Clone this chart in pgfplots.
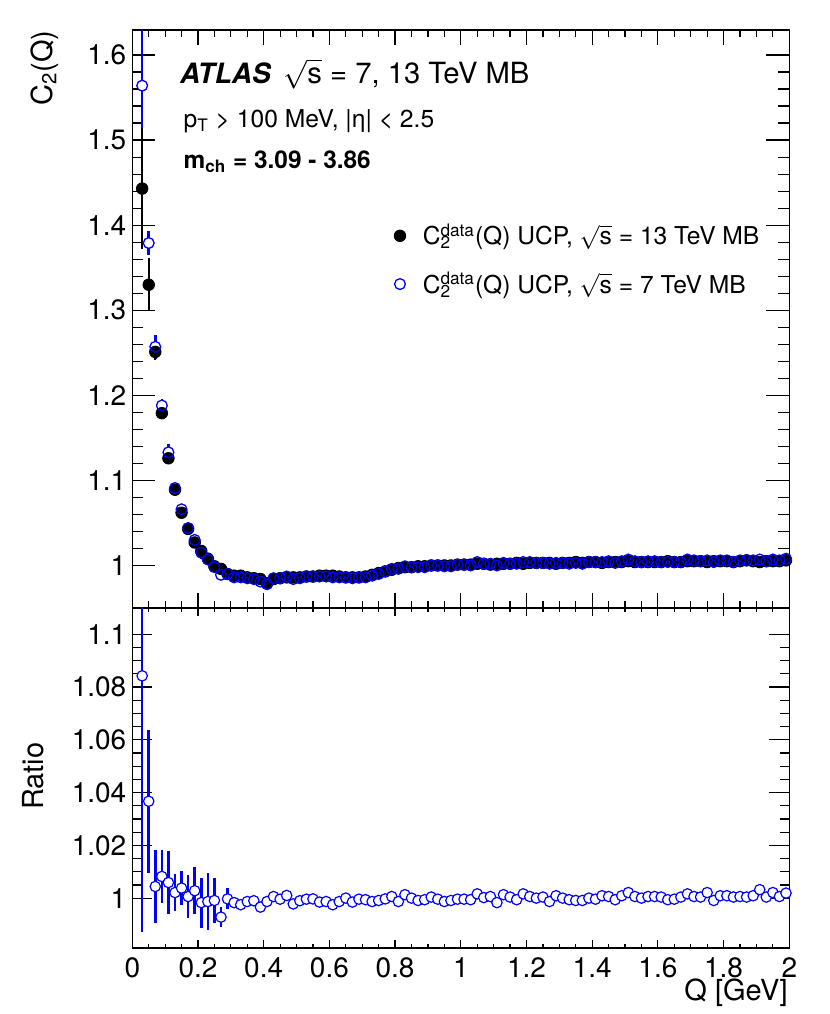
\documentclass[border=0pt]{standalone}
\usepackage{pgfplots}
\pgfplotsset{compat=1.18}
\usepackage{pgfplotstable}
\usepackage{fontspec}
\setmainfont{TeX Gyre Heros}

% 13 TeV (filled black)
\pgfplotstableread{
x y e
0.03 1.443 0.071
0.05 1.330 0.031
0.07 1.251 0.010
0.09 1.179 0.005
0.11 1.126 0.004
0.13 1.089 0.003
0.15 1.062 0.003
0.17 1.043 0.002
0.19 1.027 0.002
0.21 1.017 0.002
0.23 1.008 0.002
0.25 0.999 0.002
0.27 0.996 0.001
0.29 0.990 0.001
0.31 0.988 0.001
0.33 0.988 0.001
0.35 0.986 0.001
0.37 0.985 0.001
0.39 0.984 0.001
0.41 0.979 0.001
0.43 0.984 0.001
0.45 0.985 0.001
0.47 0.986 0.001
0.49 0.986 0.001
0.51 0.986 0.001
0.53 0.987 0.001
0.55 0.987 0.001
0.57 0.988 0.001
0.59 0.988 0.001
0.61 0.988 0.001
0.63 0.987 0.001
0.65 0.986 0.001
0.67 0.986 0.001
0.69 0.986 0.001
0.71 0.987 0.001
0.73 0.989 0.001
0.75 0.991 0.001
0.77 0.993 0.001
0.79 0.995 0.001
0.81 0.997 0.001
0.83 0.998 0.001
0.85 0.998 0.001
0.87 0.999 0.001
0.89 0.999 0.001
0.91 1.000 0.001
0.93 1.000 0.001
0.95 1.000 0.001
0.97 1.000 0.001
0.99 1.001 0.001
1.01 1.001 0.001
1.03 1.001 0.001
1.05 1.002 0.001
1.07 1.002 0.001
1.09 1.001 0.001
1.11 1.002 0.001
1.13 1.002 0.001
1.15 1.002 0.001
1.17 1.003 0.001
1.19 1.002 0.001
1.21 1.003 0.001
1.23 1.003 0.001
1.25 1.003 0.001
1.27 1.003 0.001
1.29 1.002 0.001
1.31 1.003 0.001
1.33 1.003 0.001
1.35 1.004 0.001
1.37 1.003 0.001
1.39 1.004 0.001
1.41 1.004 0.001
1.43 1.003 0.001
1.45 1.004 0.001
1.47 1.004 0.001
1.49 1.004 0.001
1.51 1.005 0.001
1.53 1.004 0.001
1.55 1.004 0.001
1.57 1.004 0.001
1.59 1.004 0.001
1.61 1.004 0.001
1.63 1.005 0.001
1.65 1.004 0.001
1.67 1.004 0.001
1.69 1.005 0.001
1.71 1.005 0.001
1.73 1.005 0.001
1.75 1.004 0.001
1.77 1.005 0.001
1.79 1.005 0.001
1.81 1.005 0.001
1.83 1.004 0.001
1.85 1.005 0.001
1.87 1.006 0.001
1.89 1.005 0.001
1.91 1.004 0.001
1.93 1.005 0.001
1.95 1.005 0.001
1.97 1.005 0.001
1.99 1.006 0.001
}\tabA

% 7 TeV (open blue)
\pgfplotstableread{
x y e
0.03 1.564 0.117
0.05 1.379 0.014
0.07 1.257 0.014
0.09 1.188 0.008
0.11 1.133 0.010
0.13 1.091 0.006
0.15 1.066 0.006
0.17 1.044 0.006
0.19 1.030 0.006
0.21 1.015 0.007
0.23 1.007 0.007
0.25 0.998 0.007
0.27 0.989 0.003
0.29 0.990 0.002
0.31 0.986 0.001
0.33 0.986 0.001
0.35 0.985 0.001
0.37 0.984 0.001
0.39 0.981 0.001
0.41 0.978 0.001
0.43 0.985 0.001
0.45 0.985 0.001
0.47 0.987 0.001
0.49 0.984 0.001
0.51 0.985 0.001
0.53 0.987 0.001
0.55 0.987 0.001
0.57 0.987 0.001
0.59 0.987 0.001
0.61 0.986 0.001
0.63 0.986 0.001
0.65 0.986 0.001
0.67 0.985 0.001
0.69 0.986 0.001
0.71 0.986 0.001
0.73 0.988 0.001
0.75 0.990 0.001
0.77 0.993 0.001
0.79 0.996 0.001
0.81 0.996 0.001
0.83 0.999 0.001
0.85 0.998 0.001
0.87 0.998 0.001
0.89 0.998 0.001
0.91 1.000 0.001
0.93 1.000 0.001
0.95 0.999 0.001
0.97 0.999 0.001
0.99 1.001 0.001
1.01 1.001 0.001
1.03 1.000 0.001
1.05 1.004 0.001
1.07 1.002 0.001
1.09 1.002 0.001
1.11 1.000 0.001
1.13 1.003 0.001
1.15 1.002 0.001
1.17 1.002 0.001
1.19 1.004 0.001
1.21 1.004 0.001
1.23 1.003 0.001
1.25 1.003 0.001
1.27 1.002 0.001
1.29 1.003 0.001
1.31 1.003 0.001
1.33 1.002 0.001
1.35 1.003 0.001
1.37 1.002 0.001
1.39 1.004 0.001
1.41 1.004 0.001
1.43 1.004 0.001
1.45 1.005 0.001
1.47 1.003 0.001
1.49 1.005 0.001
1.51 1.007 0.001
1.53 1.005 0.001
1.55 1.004 0.001
1.57 1.005 0.001
1.59 1.005 0.001
1.61 1.004 0.001
1.63 1.004 0.001
1.65 1.004 0.001
1.67 1.004 0.001
1.69 1.007 0.001
1.71 1.006 0.001
1.73 1.005 0.001
1.75 1.006 0.001
1.77 1.004 0.001
1.79 1.006 0.001
1.81 1.006 0.001
1.83 1.004 0.001
1.85 1.006 0.001
1.87 1.006 0.001
1.89 1.006 0.001
1.91 1.007 0.001
1.93 1.005 0.001
1.95 1.007 0.001
1.97 1.006 0.001
1.99 1.008 0.001
}\tabB

% Ratio 7/13
\pgfplotstableread{
x y e
0.03 1.0842 0.097
0.05 1.0367 0.027
0.07 1.0044 0.014
0.09 1.0082 0.010
0.11 1.0059 0.012
0.13 1.0021 0.007
0.15 1.0038 0.0065
0.17 1.0006 0.008
0.19 1.0028 0.009
0.21 0.9983 0.0095
0.23 0.9987 0.0107
0.25 0.9991 0.0085
0.27 0.9928 0.0037
0.29 0.9997 0.004
0.31 0.9983 0.001
0.33 0.9975 0.001
0.35 0.9987 0.001
0.37 0.9990 0.001
0.39 0.9966 0.001
0.41 0.9987 0.001
0.43 1.0006 0.001
0.45 0.9996 0.001
0.47 1.0010 0.001
0.49 0.9978 0.001
0.51 0.9990 0.001
0.53 0.9996 0.001
0.55 0.9997 0.001
0.57 0.9985 0.001
0.59 0.9987 0.001
0.61 0.9975 0.001
0.63 0.9987 0.001
0.65 1.0000 0.001
0.67 0.9985 0.001
0.69 0.9996 0.001
0.71 0.9994 0.001
0.73 0.9987 0.001
0.75 0.9991 0.001
0.77 0.9997 0.001
0.79 1.0006 0.001
0.81 0.9987 0.001
0.83 1.0013 0.001
0.85 1.0000 0.001
0.87 0.9991 0.001
0.89 0.9994 0.001
0.91 1.0004 0.001
0.93 0.9996 0.001
0.95 0.9987 0.001
0.97 0.9991 0.001
0.99 0.9996 0.001
1.01 0.9996 0.001
1.03 0.9994 0.001
1.05 1.0016 0.001
1.07 1.0002 0.001
1.09 1.0006 0.001
1.11 0.9983 0.001
1.13 1.0013 0.001
1.15 1.0004 0.001
1.17 0.9994 0.001
1.19 1.0016 0.001
1.21 1.0006 0.001
1.23 1.0000 0.001
1.25 1.0004 0.001
1.27 0.9987 0.001
1.29 1.0009 0.001
1.31 1.0000 0.001
1.33 0.9994 0.001
1.35 0.9991 0.001
1.37 0.9991 0.001
1.39 1.0000 0.001
1.41 0.9996 0.001
1.43 1.0009 0.001
1.45 1.0006 0.001
1.47 0.9994 0.001
1.49 1.0009 0.001
1.51 1.0021 0.001
1.53 1.0006 0.001
1.55 1.0000 0.001
1.57 1.0006 0.001
1.59 1.0006 0.001
1.61 1.0004 0.001
1.63 0.9994 0.001
1.65 0.9996 0.001
1.67 1.0004 0.001
1.69 1.0016 0.001
1.71 1.0006 0.001
1.73 1.0004 0.001
1.75 1.0021 0.001
1.77 0.9991 0.001
1.79 1.0009 0.001
1.81 1.0009 0.001
1.83 1.0004 0.001
1.85 1.0006 0.001
1.87 1.0004 0.001
1.89 1.0009 0.001
1.91 1.0032 0.001
1.93 1.0004 0.001
1.95 1.0021 0.001
1.97 1.0006 0.001
1.99 1.0019 0.001
}\tabR

\pgfplotsset{
  rootaxis/.style={
    scale only axis,
    anchor=south west,
    width=328.5pt,
    xmin=0, xmax=2,
    axis line style={line width=0.6pt},
    tick align=inside,
    xtick pos=both, ytick pos=both,
    tick style={black, line width=0.6pt},
    xtick={0,0.2,0.4,0.6,0.8,1,1.2,1.4,1.6,1.8,2},
    minor x tick num=3,
    /pgf/number format/assume math mode=true,
    tick label style={font=\fontsize{14pt}{16pt}\selectfont},
    yticklabel style={anchor=east, inner sep=0pt, xshift=-2.8pt},
    xticklabel style={anchor=north, inner sep=0pt, yshift=-4.4pt},
    label style={font=\fontsize{14.5pt}{17pt}\selectfont, inner sep=0pt},
    clip=true,
  },
}

\begin{document}
\begin{tikzpicture}
\path[use as bounding box] (-66.15pt,-33pt) rectangle (348.85pt,474pt);

% ---------------- top panel ----------------
\begin{axis}[rootaxis,
  at={(0pt,170pt)},
  height=289pt,
  ymin=0.95, ymax=1.6294,
  ytick={1,1.1,1.2,1.3,1.4,1.5,1.6},
  minor y tick num=4,
  xticklabels={},
  xtick style={/pgfplots/major tick length=7.5pt, /pgfplots/minor tick length=3.5pt},
  ytick style={/pgfplots/major tick length=11.5pt, /pgfplots/minor tick length=5.5pt},
  ylabel={C\textsubscript{2}(Q)},
  ylabel style={at={(axis description cs:-0.1222,1)}, anchor=base east, rotate=0},
  legend style={at={(axis description cs:0.398,0.676)}, anchor=north west, draw=none, fill=none,
    font=\fontsize{12.3pt}{14pt}\selectfont, row sep=6pt, inner sep=0pt,
    nodes={inner sep=3pt}},
  legend cell align=left,
]
% blue error bars
\addplot[blue, only marks, mark=none, forget plot,
  error bars/.cd, y dir=both, y explicit, error mark=none,
  error bar style={draw=blue, solid, line width=1.3pt}]
  table[x=x, y=y, y error=e]{\tabB};
% white interior of blue circles
\addplot[only marks, mark=*, mark size=2.3pt, forget plot,
  mark options={draw=white, fill=white}]
  table[x=x, y=y]{\tabB};
% 13 TeV
\addplot[black, only marks, mark=*, mark size=2.9pt,
  mark options={fill=black, draw=black},
  error bars/.cd, y dir=both, y explicit, error mark=none,
  error bar style={draw=black, solid, line width=1pt}]
  table[x=x, y=y, y error=e]{\tabA};
\addlegendentry{\hspace{5.5pt}C\rlap{\textsubscript{2}}\textsuperscript{data}(Q) UCP, $\sqrt{\mbox{s}}$ = 13 TeV MB}
% 7 TeV outlines
\addplot[blue, only marks, mark=o, mark size=2.7pt, mark options={line width=0.65pt, draw=blue}]
  table[x=x, y=y]{\tabB};
\addlegendentry{\hspace{5.5pt}C\rlap{\textsubscript{2}}\textsuperscript{data}(Q) UCP, $\sqrt{\mbox{s}}$ = 7 TeV MB}

\node[anchor=base west, inner sep=0pt, font=\fontsize{14pt}{16pt}\selectfont\bfseries\itshape]
  at (axis description cs:0.072,0.9078) {ATLAS};
\node[anchor=base west, inner sep=0pt, font=\fontsize{14.6pt}{16pt}\selectfont]
  at (axis description cs:0.2294,0.9078) {$\sqrt{\mbox{s}}$ = 7, 13 TeV MB};
\node[anchor=base west, inner sep=0pt, font=\fontsize{12.3pt}{14pt}\selectfont]
  at (axis description cs:0.0776,0.8317) {p\textsubscript{T} > 100 MeV, |η| < 2.5};
\node[anchor=base west, inner sep=0pt, font=\fontsize{12.2pt}{14pt}\selectfont\bfseries]
  at (axis description cs:0.0776,0.7607) {m\textsubscript{ch} = 3.09 - 3.86};
\end{axis}

% ---------------- ratio panel ----------------
\begin{axis}[rootaxis,
  at={(0pt,0pt)},
  height=170pt,
  ymin=0.9811, ymax=1.1099,
  ytick={1,1.02,1.04,1.06,1.08,1.1},
  minor y tick num=3,
  xtick style={/pgfplots/major tick length=4pt, /pgfplots/minor tick length=2.2pt},
  ytick style={/pgfplots/major tick length=10pt, /pgfplots/minor tick length=4.5pt},
  xlabel={Q [GeV]},
  xlabel style={at={(axis description cs:0.998,-0.153)}, anchor=base east},
  ylabel={Ratio},
  ylabel style={at={(axis description cs:-0.1359,0.505)}, anchor=base, rotate=0},
]
\addplot[blue, only marks, mark=none,
  error bars/.cd, y dir=both, y explicit, error mark=none,
  error bar style={draw=blue, solid, line width=1.3pt}]
  table[x=x, y=y, y error=e]{\tabR};
\addplot[blue, only marks, mark=*, mark size=2.6pt,
  mark options={draw=blue, fill=white, line width=0.6pt}]
  table[x=x, y=y]{\tabR};
\end{axis}
\end{tikzpicture}
\end{document}
